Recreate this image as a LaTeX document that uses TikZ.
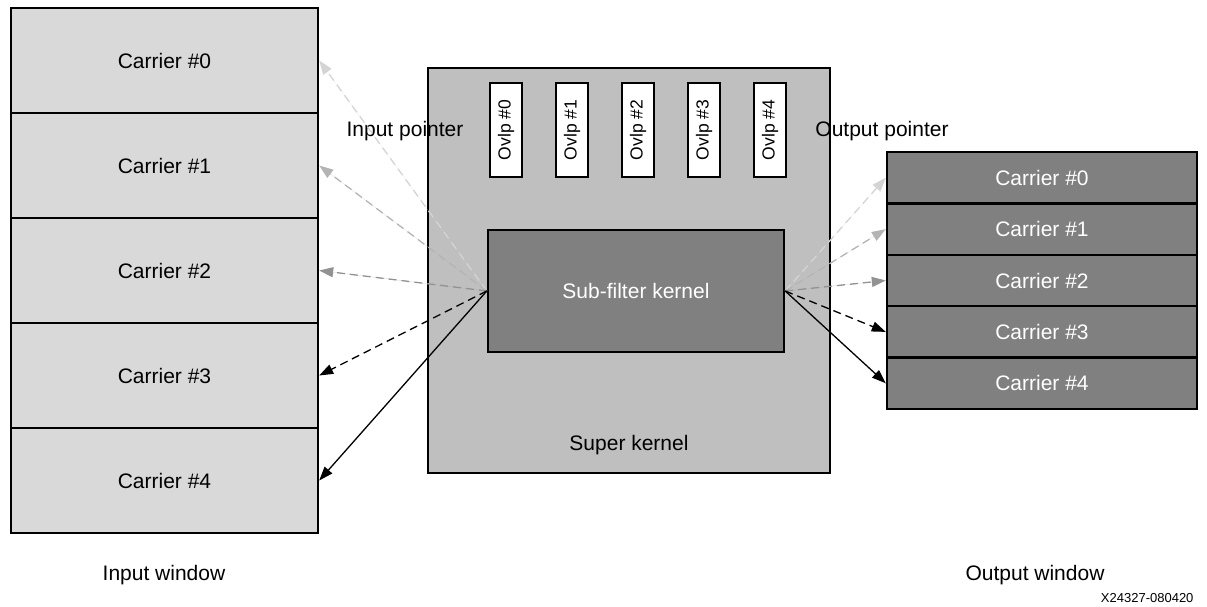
\documentclass[tikz,border=0pt]{standalone}
\usepackage{fontspec}
\setmainfont{Liberation Sans}
\usetikzlibrary{arrows.meta}
\definecolor{inFill}{HTML}{D9D9D9}
\definecolor{superFill}{HTML}{BFBFBF}
\definecolor{darkFill}{HTML}{808080}
\definecolor{arrA}{HTML}{D4D4D4}
\definecolor{arrB}{HTML}{B4B4B4}
\definecolor{arrC}{HTML}{929292}
\tikzset{
  txt/.style={font=\fontsize{21}{25}\selectfont},
  box/.style={draw=black, line width=2.4pt, rectangle, inner sep=0pt, txt},
  incar/.style={box, fill=inFill, minimum width=307pt, minimum height=105pt},
  outcar/.style={box, fill=darkFill, text=white, minimum width=310pt, minimum height=51.4pt},
  ovbox/.style={box, fill=white, minimum width=32pt, minimum height=94pt},
  ptr/.style={line width=1.3pt, -{Triangle[length=14pt,width=10pt]}},
  dsh/.style={dash pattern=on 8pt off 5pt},
}
\begin{document}
\begin{tikzpicture}[x=1pt,y=-1pt]
\useasboundingbox (0,0) rectangle (1207,607);
% input window
\foreach \i in {0,...,4} {
  \node[incar] (in\i) at (164.5,{60.5+105*\i}) {Carrier \#\i};
}
% output window
\foreach \i in {0,...,4} {
  \node[outcar] (out\i) at (1042,{177.7+51.4*\i}) {Carrier \#\i};
}
% super kernel
\node[box, fill=superFill, minimum width=402pt, minimum height=405pt] (superk) at (629,270.5) {};
\node[txt] (superlbl) at (629,445) {Super kernel};
\foreach \i in {0,...,4} {
  \node[ovbox] (ov\i) at ({506+66*\i},130) {};
  \node[font=\fontsize{17.5}{21}\selectfont, rotate=90] (ovt\i) at (ov\i.center) {Ovlp \#\i};
}
\node[box, fill=darkFill, text=white, minimum width=296pt, minimum height=122pt] (sub) at (636,291) {Sub-filter kernel};
% labels
\node[txt] (inptr) at (405,131) {Input pointer};
\node[txt] (outptr) at (882,131) {Output pointer};
\node[txt] (inwin) at (164,575) {Input window};
\node[txt] (outwin) at (1035,575) {Output window};
\node[font=\fontsize{13}{15}\selectfont, anchor=east] (code) at (1197,598) {X24327-080420};
% arrows
\draw[ptr, dsh, draw=arrA, fill=arrA] (sub.west) -- (in0.east);
\draw[ptr, dsh, draw=arrB, fill=arrB] (sub.west) -- (in1.east);
\draw[ptr, dsh, draw=arrC, fill=arrC] (sub.west) -- (in2.east);
\draw[ptr, dsh, draw=black] (sub.west) -- (in3.east);
\draw[ptr, draw=black] (sub.west) -- (in4.east);
\draw[ptr, dsh, draw=arrA, fill=arrA] (sub.east) -- (out0.west);
\draw[ptr, dsh, draw=arrB, fill=arrB] (sub.east) -- (out1.west);
\draw[ptr, dsh, draw=arrC, fill=arrC] (sub.east) -- (out2.west);
\draw[ptr, dsh, draw=black] (sub.east) -- (out3.west);
\draw[ptr, draw=black] (sub.east) -- (out4.west);
\end{tikzpicture}
\end{document}
